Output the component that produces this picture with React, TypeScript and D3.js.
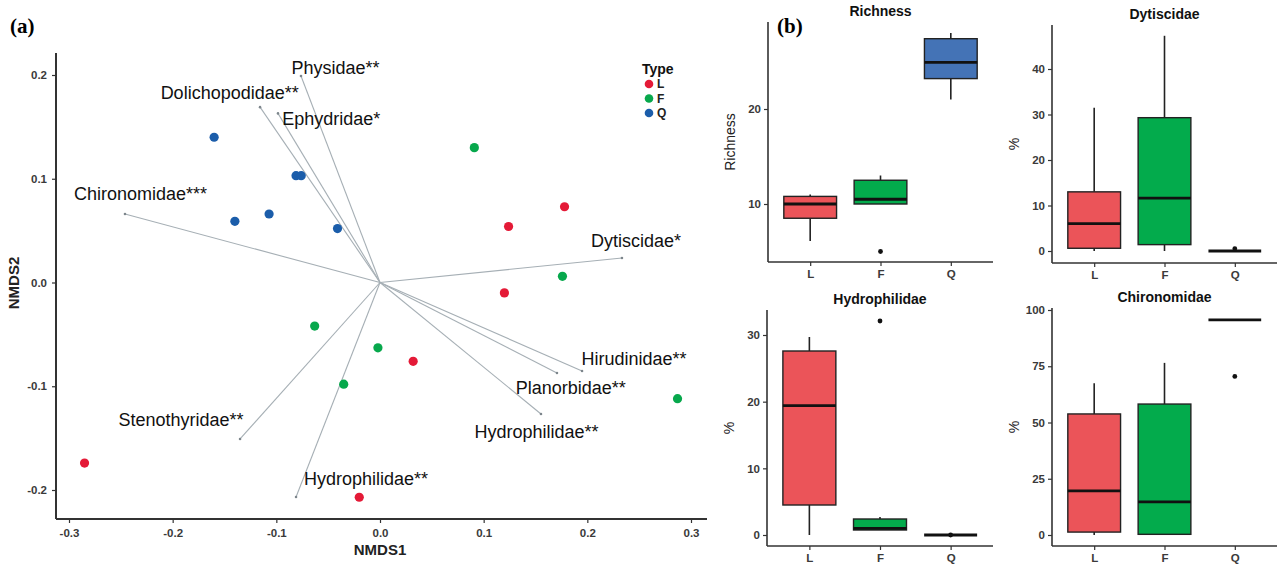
import { useEffect, useRef } from 'react';
import * as d3 from 'd3';

const FONT = 'Liberation Sans, Arial, sans-serif';
const AXIS_COL = '#333333';
const TYPE_COLORS = { L: '#E41A37', F: '#07A84C', Q: '#1B5DAA' };
const BOX_COLORS = { L: '#EB5459', F: '#03AB4C', Q: '#4473B6' };

// NMDS site scores
const pointsL = [[0.178, 0.073], [0.124, 0.054], [0.120, -0.010], [0.032, -0.076], [-0.285, -0.174], [-0.020, -0.207]];
const pointsF = [[0.091, 0.130], [0.176, 0.006], [-0.063, -0.042], [-0.002, -0.063], [-0.035, -0.098], [0.287, -0.112]];
const pointsQ = [[-0.160, 0.140], [-0.081, 0.103], [-0.076, 0.103], [-0.140, 0.059], [-0.107, 0.066], [-0.041, 0.052]];

// fitted taxa vectors: name, end x, end y, label x, label y
const vectors = [
  ['Physidae**', -0.0762, 0.199, -0.043, 0.207],
  ['Dolichopodidae**', -0.1157, 0.169, -0.145, 0.183],
  ['Ephydridae*', -0.0984, 0.163, -0.047, 0.158],
  ['Chironomidae***', -0.246, 0.066, -0.231, 0.086],
  ['Dytiscidae*', 0.2334, 0.0236, 0.247, 0.040],
  ['Hirudinidae**', 0.1949, -0.0853, 0.245, -0.073],
  ['Planorbidae**', 0.1707, -0.0872, 0.184, -0.101],
  ['Hydrophilidae**', 0.1553, -0.1267, 0.151, -0.144],
  ['Stenothyridae**', -0.135, -0.1508, -0.192, -0.132],
  ['Hydrophilidae**', -0.081, -0.2067, -0.0135, -0.189],
];

const nmdsTicks = [-0.3, -0.2, -0.1, 0.0, 0.1, 0.2, 0.3];
const nmdsYTicks = [-0.2, -0.1, 0.0, 0.1, 0.2];
const groups = ['L', 'F', 'Q'];

// box stats per group: [lower whisker, q1, median, q3, upper whisker]
const richnessBox = [[6.1, 8.5, 10, 10.8, 11], [10, 10, 10.5, 12.5, 13], [21, 23.2, 24.9, 27.4, 28]];
const richnessOut = [[], [5], []];
const dytiscidaeBox = [[0, 0.6, 6, 13, 31.5], [0, 1.4, 11.6, 29.3, 47.3], [0, 0, 0, 0, 0]];
const dytiscidaeOut = [[], [], [0.5]];
const hydrophilidaeBox = [[0, 4.5, 19.4, 27.6, 29.7], [0.75, 0.75, 1.0, 2.4, 2.7], [0, 0, 0, 0, 0]];
const hydrophilidaeOut = [[], [32.1], [0]];
const chironomidaeBox = [[0, 1.3, 19.6, 53.8, 67.5], [0, 0.3, 14.7, 58.2, 76.5], [95.6, 95.6, 95.6, 95.6, 95.6]];
const chironomidaeOut = [[], [], [70.5]];

const panels = [
  { title: 'Richness', ylab: 'Richness', box: richnessBox, out: richnessOut, ticks: [10, 20],
    left: 768, right: 993, top: 22, bottom: 262, d0: [10, 20], r0: [204, 109] },
  { title: 'Dytiscidae', ylab: '%', box: dytiscidaeBox, out: dytiscidaeOut, ticks: [0, 10, 20, 30, 40],
    left: 1052, right: 1277, top: 25, bottom: 263, d0: [0, 40], r0: [251, 69] },
  { title: 'Hydrophilidae', ylab: '%', box: hydrophilidaeBox, out: hydrophilidaeOut, ticks: [0, 10, 20, 30],
    left: 767, right: 993, top: 310, bottom: 546, d0: [0, 30], r0: [535, 335] },
  { title: 'Chironomidae', ylab: '%', box: chironomidaeBox, out: chironomidaeOut, ticks: [0, 25, 50, 75, 100],
    left: 1052, right: 1277, top: 308, bottom: 546, d0: [0, 100], r0: [535, 310] },
];

const styleAxis = (g, size) => {
  g.select('.domain').remove();
  g.selectAll('.tick line').attr('stroke', AXIS_COL).attr('stroke-width', 1.2);
  g.selectAll('.tick text')
    .attr('fill', '#3a3a3a')
    .style('font-family', FONT)
    .style('font-weight', 'bold')
    .style('font-size', size + 'px');
};

const App = () => {
  const axesRef = useRef(null);

  const x = d3.scaleLinear().domain([-0.3, 0.3]).range([69, 691]);
  const y = d3.scaleLinear().domain([-0.2, 0.2]).range([490, 75]);

  useEffect(() => {
    const svg = d3.select(axesRef.current);
    svg.selectAll('*').remove();

    // NMDS axes
    svg.append('line').attr('x1', 56).attr('x2', 56).attr('y1', 53).attr('y2', 519)
      .attr('stroke', AXIS_COL).attr('stroke-width', 2);
    svg.append('line').attr('x1', 56).attr('x2', 707).attr('y1', 519).attr('y2', 519)
      .attr('stroke', AXIS_COL).attr('stroke-width', 2);
    svg.append('g').attr('transform', 'translate(0,519)')
      .call(d3.axisBottom(x).tickValues(nmdsTicks).tickSize(4).tickPadding(6).tickFormat((d) => d.toFixed(1)))
      .call((g) => styleAxis(g, 11.5));
    svg.append('g').attr('transform', 'translate(56,0)')
      .call(d3.axisLeft(y).tickValues(nmdsYTicks).tickSize(4).tickPadding(5).tickFormat((d) => d.toFixed(1)))
      .call((g) => styleAxis(g, 11.5));

    // boxplot panels
    panels.forEach((p) => {
      const bx = d3.scalePoint().domain(groups).range([p.left, p.right]).padding(0.6);
      const by = d3.scaleLinear().domain(p.d0).range(p.r0);
      const g = svg.append('g');
      g.append('line').attr('x1', p.left).attr('x2', p.left).attr('y1', p.top).attr('y2', p.bottom)
        .attr('stroke', AXIS_COL).attr('stroke-width', 1.6);
      g.append('line').attr('x1', p.left).attr('x2', p.right).attr('y1', p.bottom).attr('y2', p.bottom)
        .attr('stroke', AXIS_COL).attr('stroke-width', 1.6);
      g.append('g').attr('transform', `translate(0,${p.bottom})`)
        .call(d3.axisBottom(bx).tickSize(4).tickPadding(4))
        .call((a) => styleAxis(a, 11.5));
      g.append('g').attr('transform', `translate(${p.left},0)`)
        .call(d3.axisLeft(by).tickValues(p.ticks).tickSize(4).tickPadding(3))
        .call((a) => styleAxis(a, 11.5));
    });
  }, []);

  const vecLines = vectors.map((v, i) => (
    <g key={i}>
      <line x1={x(0)} y1={y(0)} x2={x(v[1])} y2={y(v[2])} stroke="#A6AFB5" strokeWidth={1.1} />
      <circle cx={x(v[1])} cy={y(v[2])} r={1.3} fill="#7d868c" />
    </g>
  ));
  const vecLabels = vectors.map((v, i) => (
    <text key={i} x={x(v[3])} y={y(v[4])} dy="0.36em" textAnchor="middle"
      fontFamily={FONT} fontSize={18} fill="#111">{v[0]}</text>
  ));

  const pointSets = [['L', pointsL], ['F', pointsF], ['Q', pointsQ]];
  const allPoints = pointSets.map(([k, pts]) =>
    pts.map((d, i) => (
      <circle key={k + i} cx={x(d[0])} cy={y(d[1])} r={4.6} fill={TYPE_COLORS[k]} />
    ))
  );

  const boxes = panels.map((p, pi) => {
    const bx = d3.scalePoint().domain(groups).range([p.left, p.right]).padding(0.6);
    const by = d3.scaleLinear().domain(p.d0).range(p.r0);
    const w = bx.step() * 0.75;
    return (
      <g key={pi}>
        <text x={(p.left + p.right) / 2} y={p.top - 6} textAnchor="middle" fontFamily={FONT}
          fontWeight="bold" fontSize={14} fill="#111">{p.title}</text>
        <text transform={`translate(${p.left - 33},${(p.top + p.bottom) / 2}) rotate(-90)`}
          textAnchor="middle" fontFamily={FONT} fontSize={14} fill="#222">{p.ylab}</text>
        {groups.map((k, gi) => {
          const [lo, q1, med, q3, hi] = p.box[gi];
          const cx = bx(k);
          return (
            <g key={k}>
              <line x1={cx} x2={cx} y1={by(lo)} y2={by(q1)} stroke="#222" strokeWidth={1.6} />
              <line x1={cx} x2={cx} y1={by(q3)} y2={by(hi)} stroke="#222" strokeWidth={1.6} />
              <rect x={cx - w / 2} width={w} y={by(q3)} height={Math.max(0, by(q1) - by(q3))}
                fill={BOX_COLORS[k]} stroke="#222" strokeWidth={1.4} />
              <line x1={cx - w / 2} x2={cx + w / 2} y1={by(med)} y2={by(med)} stroke="#111" strokeWidth={2.8} />
              {p.out[gi].map((o, oi) => (
                <circle key={oi} cx={cx} cy={by(o)} r={2.4} fill="#111" />
              ))}
            </g>
          );
        })}
      </g>
    );
  });

  return (
    <svg width={1277} height={564} style={{ position: 'absolute', left: 0, top: 0, background: '#fff' }}>
      <text x={10} y={33} fontFamily="Liberation Serif, Times New Roman, serif" fontWeight="bold" fontSize={21}>(a)</text>
      <text x={777} y={33} fontFamily="Liberation Serif, Times New Roman, serif" fontWeight="bold" fontSize={21}>(b)</text>
      {vecLines}
      {allPoints}
      {vecLabels}
      <text x={380} y={555} textAnchor="middle" fontFamily={FONT} fontWeight="bold" fontSize={15} fill="#222">NMDS1</text>
      <text transform="translate(19,283) rotate(-90)" textAnchor="middle" fontFamily={FONT}
        fontWeight="bold" fontSize={15} fill="#222">NMDS2</text>
      <text x={642} y={74} fontFamily={FONT} fontWeight="bold" fontSize={14} fill="#111">Type</text>
      {groups.map((k, i) => (
        <g key={k}>
          <circle cx={649} cy={84 + i * 14.5} r={4.3} fill={TYPE_COLORS[k]} />
          <text x={657} y={84 + i * 14.5} dy="0.36em" fontFamily={FONT} fontWeight="bold" fontSize={12} fill="#222">{k}</text>
        </g>
      ))}
      {boxes}
      <g ref={axesRef} />
    </svg>
  );
};

export default App;
